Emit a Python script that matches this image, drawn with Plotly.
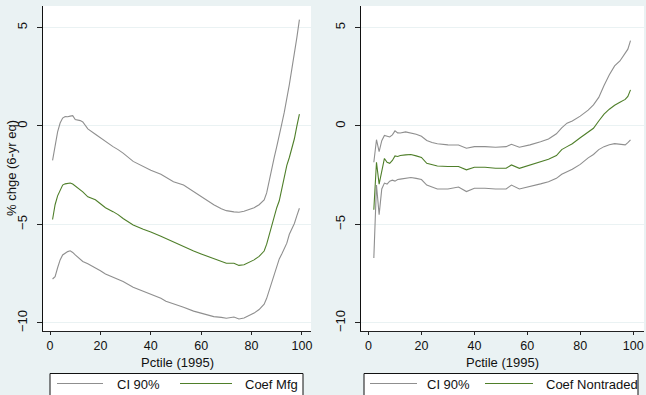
import plotly.graph_objects as go

# ---- Manufacturing panel: percentile, coefficient and 90% band ----
pct_mfg = [1, 2, 3, 4, 5, 6, 7, 8, 9, 10, 12, 13, 15, 18, 20, 22, 25, 27, 29, 33,
           37, 40, 44, 46, 49, 53, 57, 60, 62, 65, 68, 70, 73, 75, 77, 79, 81, 83,
           85, 86, 87, 88, 89, 90, 91, 92, 93, 94, 95, 96, 97, 98, 99]
ub_mfg = [-1.75, -0.95, -0.3, 0.15, 0.4, 0.48, 0.47, 0.5, 0.52, 0.33, 0.27, 0.2, -0.15,
          -0.42, -0.6, -0.82, -1.05, -1.2, -1.38, -1.8, -2.05, -2.25, -2.45, -2.62, -2.83,
          -3.0, -3.33, -3.55, -3.76, -4.0, -4.2, -4.3, -4.36, -4.38, -4.33, -4.25, -4.15,
          -4.0, -3.76, -3.4, -2.75, -2.2, -1.6, -1.05, -0.55, 0.1, 0.7, 1.35, 2.1, 2.9,
          3.6, 4.5, 5.4]
coef_mfg = [-4.75, -4.0, -3.55, -3.25, -3.0, -2.94, -2.9, -2.9, -2.95, -3.05, -3.25, -3.35,
            -3.6, -3.75, -3.95, -4.15, -4.35, -4.5, -4.7, -5.03, -5.25, -5.38, -5.6, -5.72,
            -5.87, -6.1, -6.35, -6.5, -6.6, -6.73, -6.9, -6.97, -6.97, -7.08, -7.05, -6.92,
            -6.8, -6.62, -6.35, -6.0, -5.55, -5.05, -4.55, -4.15, -3.8, -3.2, -2.55, -2.0,
            -1.6, -1.15, -0.65, 0.0, 0.6]
lb_mfg = [-7.77, -7.65, -7.2, -6.8, -6.55, -6.46, -6.38, -6.34, -6.42, -6.55, -6.8, -6.88,
          -7.0, -7.2, -7.35, -7.52, -7.68, -7.8, -7.9, -8.19, -8.4, -8.55, -8.75, -8.9,
          -9.02, -9.2, -9.4, -9.52, -9.58, -9.68, -9.72, -9.76, -9.7, -9.8, -9.75, -9.62,
          -9.5, -9.32, -9.05, -8.75, -8.35, -7.9, -7.45, -7.06, -6.75, -6.5, -6.25, -5.95,
          -5.5, -5.2, -4.95, -4.55, -4.18]

# ---- Nontraded panel ----
pct_nt = [2, 3, 4, 5, 6, 7, 8, 9, 10, 11, 12, 14, 16, 18, 20, 22, 24, 26, 30, 34, 37,
          40, 44, 48, 52, 54, 57, 61, 65, 68, 71, 73, 75, 77, 80, 83, 85, 87, 89, 91,
          93, 95, 97, 98, 99]
ub_nt = [-1.84, -0.7, -1.3, -0.75, -0.48, -0.52, -0.56, -0.45, -0.25, -0.35, -0.36, -0.3,
         -0.35, -0.42, -0.52, -0.74, -0.84, -0.9, -0.96, -0.97, -1.13, -1.05, -1.05,
         -1.08, -1.05, -0.93, -1.08, -0.96, -0.8, -0.66, -0.4, -0.1, 0.14, 0.25, 0.5,
         0.8, 1.07, 1.45, 2.05, 2.6, 3.05, 3.3, 3.7, 3.9, 4.33]
coef_nt = [-4.25, -1.84, -2.95, -2.2, -1.65, -1.85, -1.9, -1.75, -1.52, -1.55, -1.5,
           -1.47, -1.45, -1.52, -1.6, -1.9, -1.98, -2.03, -2.06, -2.06, -2.23, -2.1, -2.1,
           -2.15, -2.15, -1.98, -2.15, -1.98, -1.84, -1.69, -1.5, -1.2, -1.05, -0.9, -0.6,
           -0.3, -0.12, 0.25, 0.6, 0.85, 1.05, 1.2, 1.35, 1.5, 1.83]
lb_nt = [-6.7, -3.0, -4.5, -3.2, -2.9, -2.95, -2.8, -2.75, -2.8, -2.72, -2.7, -2.66,
         -2.62, -2.66, -2.72, -3.0, -3.12, -3.2, -3.2, -3.1, -3.33, -3.16, -3.16, -3.2,
         -3.2, -3.0, -3.2, -3.08, -2.94, -2.83, -2.66, -2.45, -2.32, -2.2, -1.95, -1.62,
         -1.45, -1.2, -1.05, -0.95, -0.9, -0.92, -0.96, -0.85, -0.71]

y_ticks = [-10, -5, 0, 5]
x_ticks = [0, 20, 40, 60, 80, 100]
x_title = "Pctile (1995)"
y_title = "% chge (6-yr eq)"
ci_label = "CI 90%"
coef_labels = ["Coef Mfg", "Coef Nontraded"]

W, H = 646, 395
BG = "#eaf2f3"
GRAY = "#8f8f8f"
GREEN = "#4f7f2a"
FONT = "Liberation Sans, Arial, sans-serif"


def px(x):
    return x / W


def py(y):
    return 1 - y / H


fig = go.Figure()

panels = [
    (pct_mfg, ub_mfg, coef_mfg, lb_mfg, "x", "y"),
    (pct_nt, ub_nt, coef_nt, lb_nt, "x2", "y2"),
]
for pct, ub, coef, lb, xa, ya in panels:
    for vals, col in ((ub, GRAY), (lb, GRAY), (coef, GREEN)):
        fig.add_trace(go.Scatter(x=pct, y=vals, mode="lines", xaxis=xa, yaxis=ya,
                                 line=dict(color=col, width=1.1), showlegend=False,
                                 hoverinfo="skip"))

common_x = dict(tickvals=x_ticks, ticks="outside", ticklen=3, tickcolor="#222",
                showline=True, linecolor="#222", linewidth=1, showgrid=False,
                zeroline=False, tickfont=dict(family=FONT, size=12.5, color="#111"))
common_y = dict(tickvals=y_ticks, ticks="outside", ticklen=5, tickcolor="#222",
                showline=True, linecolor="#111", linewidth=1, showgrid=True,
                gridcolor=BG, gridwidth=1, zeroline=False, tickangle=-90,
                ticklabelstandoff=5, range=[-10.41, 6.09],
                tickfont=dict(family=FONT, size=13, color="#111"))

fig.update_layout(
    width=W, height=H,
    margin=dict(l=0, r=0, t=0, b=0),
    paper_bgcolor=BG, plot_bgcolor="white",
    xaxis=dict(domain=[px(43), px(311)], range=[-2.8, 103.6], anchor="y", **common_x),
    yaxis=dict(domain=[py(331), py(6)], anchor="x", **common_y),
    xaxis2=dict(domain=[px(361), px(644)], range=[-2.85, 104.1], anchor="y2", **common_x),
    yaxis2=dict(domain=[py(331), py(6)], anchor="x2", **common_y),
)

annotations = [
    dict(x=px(177), y=py(362), text=x_title),
    dict(x=px(502.5), y=py(362), text=x_title),
    dict(x=px(11), y=py(168), text=y_title, textangle=-90),
]

shapes = []
# Legend boxes under each panel
legend_boxes = [
    (50, 303, 57, 103, 115, 180, 232, 243, coef_labels[0]),
    (364, 638, 370, 417, 425, 485, 533, 544, coef_labels[1]),
]
for bx0, bx1, g0, g1, t1, c0, c1, t2, lab in legend_boxes:
    shapes.append(dict(type="rect", xref="paper", yref="paper",
                       x0=px(bx0), x1=px(bx1), y0=py(400), y1=py(373.5),
                       fillcolor="white", line=dict(color="#111", width=1), layer="above"))
    shapes.append(dict(type="line", xref="paper", yref="paper",
                       x0=px(g0), x1=px(g1), y0=py(383.5), y1=py(383.5),
                       line=dict(color=GRAY, width=1)))
    shapes.append(dict(type="line", xref="paper", yref="paper",
                       x0=px(c0), x1=px(c1), y0=py(383.5), y1=py(383.5),
                       line=dict(color=GREEN, width=1)))
    annotations.append(dict(x=px(t1), y=py(384.5), text=ci_label, xanchor="left"))
    annotations.append(dict(x=px(t2), y=py(384.5), text=lab, xanchor="left"))

for a in annotations:
    a.setdefault("xanchor", "center")
    a.update(xref="paper", yref="paper", yanchor="middle", showarrow=False,
             font=dict(family=FONT, size=13, color="#111"))

fig.update_layout(annotations=annotations, shapes=shapes)

fig.write_html("out.html")
